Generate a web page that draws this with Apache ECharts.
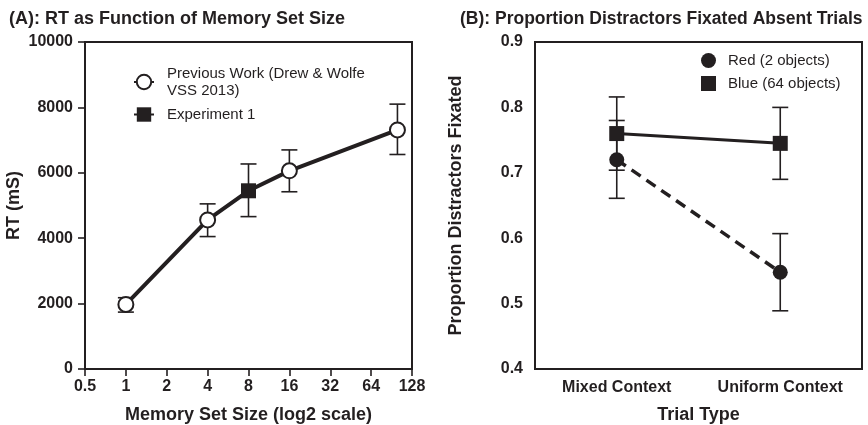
<!DOCTYPE html>
<html>
<head>
<meta charset="utf-8">
<script src="https://cdn.jsdelivr.net/npm/echarts@6/dist/echarts.min.js"></script>
<style>
  html, body { margin: 0; padding: 0; background: #fff; }
  #chart { width: 868px; height: 425px; }
</style>
</head>
<body>
<div id="chart"></div>
<script>
// panel A: RT vs memory set size
var prevName = 'Previous Work (Drew & Wolfe\nVSS 2013)'
var expName = 'Experiment 1'
var prevX = [1, 4, 16, 100]
var prevY = [1975, 4560, 6060, 7310]
var prevLo = [1740, 4050, 5420, 6560]
var prevHi = [2180, 5050, 6700, 8100]
var expX = [8]
var expY = [5450]
var expLo = [4660]
var expHi = [6270]
var xTicksA = [0.5, 1, 2, 4, 8, 16, 32, 64, 128]

// panel B: proportion distractors fixated
var categories = ['Mixed Context', 'Uniform Context']
var redName = 'Red (2 objects)'
var blueName = 'Blue (64 objects)'
var redY = [0.72, 0.548]
var redLo = [0.661, 0.489]
var redHi = [0.780, 0.607]
var blueY = [0.760, 0.745]
var blueLo = [0.704, 0.690]
var blueHi = [0.816, 0.800]

var ink = '#231f20'
var font = 'Liberation Sans, Arial, sans-serif'

function pairs(xs, ys) {
  return xs.map(function (x, i) { return [x, ys[i]] })
}

// all RT points joined in x order
var allA = pairs(prevX, prevY).concat(pairs(expX, expY)).sort(function (a, b) { return a[0] - b[0] })

function errData(xs, lo, hi) {
  return xs.map(function (x, i) { return [x, lo[i], hi[i]] })
}

function errRender(params, api) {
  var x = api.value(0)
  var lo = api.coord([x, api.value(1)])
  var hi = api.coord([x, api.value(2)])
  var w = 8
  var style = { stroke: ink, lineWidth: 1.6, fill: null }
  return {
    type: 'group',
    children: [
      { type: 'line', shape: { x1: lo[0], y1: lo[1], x2: hi[0], y2: hi[1] }, style: style },
      { type: 'line', shape: { x1: lo[0] - w, y1: lo[1], x2: lo[0] + w, y2: lo[1] }, style: style },
      { type: 'line', shape: { x1: hi[0] - w, y1: hi[1], x2: hi[0] + w, y2: hi[1] }, style: style }
    ]
  }
}

var axisLine = { lineStyle: { color: ink, width: 2 } }
var axisTick = { length: 7, lineStyle: { color: ink, width: 1.6 } }
var tickLabel = { color: ink, fontFamily: font, fontWeight: 'bold', fontSize: 16 }
var nameStyle = { color: ink, fontFamily: font, fontWeight: 'bold', fontSize: 18 }
var titleStyle = { color: ink, fontFamily: font, fontWeight: 'bold', fontSize: 18 }

var chart = echarts.init(document.getElementById('chart'))
chart.setOption({
  animation: false,
  backgroundColor: '#fff',
  title: [
    { text: '(A): RT as Function of Memory Set Size', left: 4, top: 5, textStyle: titleStyle },
    { text: '(B): Proportion Distractors Fixated Absent Trials', left: 455, top: 5,
      textStyle: Object.assign({}, titleStyle, { fontSize: 17.5 }) }
  ],
  legend: [
    {
      left: 128, top: 60, orient: 'vertical', itemGap: 7, itemWidth: 20, itemHeight: 18,
      textStyle: { color: ink, fontFamily: font, fontSize: 15, lineHeight: 17, padding: [0, 0, 0, 8] },
      data: [
        { name: prevName, lineStyle: { width: 2, color: ink, opacity: 1 } },
        { name: expName, lineStyle: { width: 2, color: ink, opacity: 1 } }
      ]
    },
    {
      left: 696, top: 48, orient: 'vertical', itemGap: 8, itemWidth: 15, itemHeight: 15,
      textStyle: { color: ink, fontFamily: font, fontSize: 15, padding: [0, 0, 0, 7] },
      data: [{ name: redName, icon: 'circle' }, { name: blueName, icon: 'rect' }]
    }
  ],
  grid: [
    { left: 85, right: 456, top: 42, bottom: 56, outerBoundsMode: 'none',
      show: true, borderColor: ink, borderWidth: 2 },
    { left: 535, right: 6, top: 42, bottom: 56, outerBoundsMode: 'none',
      show: true, borderColor: ink, borderWidth: 2 }
  ],
  xAxis: [
    {
      gridIndex: 0, type: 'log', logBase: 2, min: xTicksA[0], max: xTicksA[xTicksA.length - 1], interval: 1,
      name: 'Memory Set Size (log2 scale)', nameLocation: 'middle', nameGap: 37, nameTextStyle: nameStyle,
      axisLine: axisLine, axisTick: axisTick, axisLabel: Object.assign({ margin: 10 }, tickLabel),
      splitLine: { show: false }, minorTick: { show: false }
    },
    {
      gridIndex: 1, type: 'category', data: categories,
      name: 'Trial Type', nameLocation: 'middle', nameGap: 37, nameTextStyle: nameStyle,
      axisLine: axisLine, axisTick: Object.assign({ alignWithLabel: true }, axisTick),
      axisLabel: Object.assign({ margin: 11 }, tickLabel), splitLine: { show: false }
    }
  ],
  yAxis: [
    {
      gridIndex: 0, type: 'value', min: 0, max: 10000, interval: 2000,
      name: 'RT (mS)', nameLocation: 'middle', nameGap: 62, nameTextStyle: nameStyle,
      axisLine: axisLine, axisTick: axisTick,
      axisLabel: Object.assign({ margin: 12, formatter: function (v) { return String(v) } }, tickLabel),
      splitLine: { show: false }
    },
    {
      gridIndex: 1, type: 'value', min: 0.4, max: 0.9, interval: 0.1,
      name: 'Proportion Distractors Fixated', nameLocation: 'middle', nameGap: 70, nameTextStyle: nameStyle,
      axisLine: axisLine, axisTick: axisTick,
      axisLabel: Object.assign({ margin: 12, formatter: function (v) { return v.toFixed(1) } }, tickLabel),
      splitLine: { show: false }
    }
  ],
  series: [
    {
      type: 'line', xAxisIndex: 0, yAxisIndex: 0, data: allA, showSymbol: false, symbol: 'none',
      lineStyle: { color: ink, width: 4 }, silent: true, z: 2
    },
    {
      type: 'custom', xAxisIndex: 0, yAxisIndex: 0, data: errData(prevX, prevLo, prevHi).concat(errData(expX, expLo, expHi)),
      renderItem: errRender, silent: true, z: 1
    },
    {
      name: prevName, type: 'line', xAxisIndex: 0, yAxisIndex: 0, data: pairs(prevX, prevY),
      symbol: 'circle', symbolSize: 15, showAllSymbol: true,
      itemStyle: { color: '#fff', borderColor: ink, borderWidth: 2 },
      lineStyle: { width: 0, opacity: 0, color: ink }, z: 3
    },
    {
      name: expName, type: 'line', xAxisIndex: 0, yAxisIndex: 0, data: pairs(expX, expY),
      symbol: 'rect', symbolSize: 15,
      itemStyle: { color: ink, borderColor: ink, borderWidth: 0 },
      lineStyle: { width: 0, opacity: 0, color: ink }, z: 3
    },
    {
      type: 'custom', xAxisIndex: 1, yAxisIndex: 1,
      data: categories.map(function (c, i) { return [i, redLo[i], redHi[i]] })
        .concat(categories.map(function (c, i) { return [i, blueLo[i], blueHi[i]] })),
      renderItem: errRender, silent: true, z: 1
    },
    {
      name: redName, type: 'line', xAxisIndex: 1, yAxisIndex: 1, data: redY,
      symbol: 'circle', symbolSize: 15, itemStyle: { color: ink },
      lineStyle: { color: ink, width: 3.5, type: [11, 7] }, z: 3
    },
    {
      name: blueName, type: 'line', xAxisIndex: 1, yAxisIndex: 1, data: blueY,
      symbol: 'rect', symbolSize: 15, itemStyle: { color: ink },
      lineStyle: { color: ink, width: 3, type: 'solid' }, z: 3
    }
  ]
})
</script>
</body>
</html>
